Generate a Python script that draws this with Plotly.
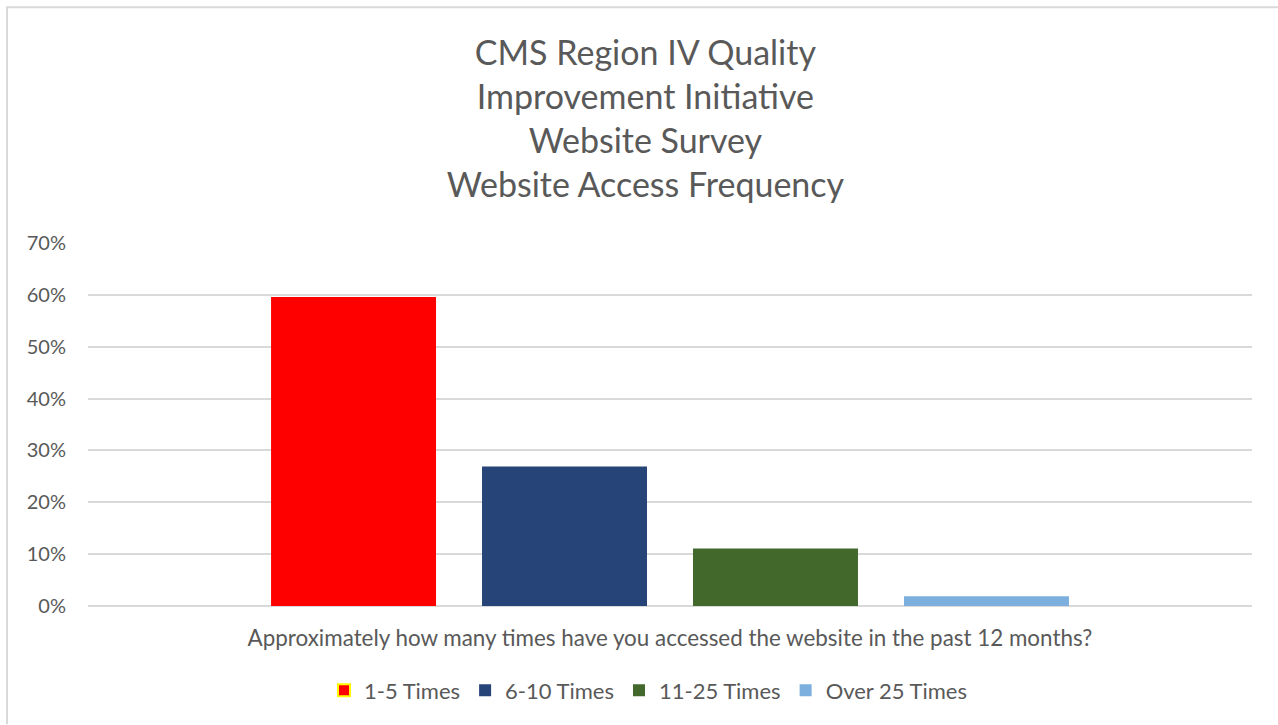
import plotly.graph_objects as go

categories = [""]
series_names = ["1-5 Times", "6-10 Times", "11-25 Times", "Over 25 Times"]
series_values = [0.596, 0.269, 0.111, 0.019]
series_colors = ["#FF0000", "#264478", "#43682B", "#7CAFDD"]
legend_line_colors = ["#FFFF00", None, None, None]

title_lines = ["CMS Region IV Quality", "Improvement Initiative", "Website Survey", "Website Access Frequency"]
x_title = "Approximately how many times have you accessed the website in the past 12 months?"
y_ticks = [0, 0.1, 0.2, 0.3, 0.4, 0.5, 0.6, 0.7]

FONT = "Lato, 'Open Sans', sans-serif"
GREY = "#595959"

fig = go.Figure()
for name, val, col in zip(series_names, series_values, series_colors):
    fig.add_trace(go.Bar(x=categories, y=[val], name=name, marker_color=col,
                         marker_line_width=0, showlegend=False, hoverinfo="y+name"))

# legend entries (square markers)
for name, col, lc in zip(series_names, series_colors, legend_line_colors):
    fig.add_trace(go.Scatter(x=[None], y=[None], mode="markers", name=name,
                             marker=dict(symbol="square", size=11, color=col,
                                         line=dict(color=lc if lc else col, width=2 if lc else 0))))

W, H = 1278, 725
ml, mr, mt, mb = 88, 26, 243, 118.5
pw = W - ml - mr
ph = H - mt - mb

fig.update_layout(
    width=W, height=H,
    margin=dict(l=ml, r=mr, t=mt, b=mb, autoexpand=False),
    paper_bgcolor="white", plot_bgcolor="white",
    font=dict(family=FONT, color=GREY, size=22),
    title=dict(text="<br>".join(title_lines), x=0.505, xanchor="center",
               y=1 - 64.5 / H, yanchor="middle",
               font=dict(size=34, color=GREY, family=FONT)),
    barmode="group", bargap=0.275, bargroupgap=0.218,
    xaxis=dict(showticklabels=False, showgrid=False, zeroline=False, showline=False,
               title=dict(text=x_title, standoff=24, font=dict(size=22.4, color=GREY))),
    yaxis=dict(range=[0, 0.7], tickvals=y_ticks, tickformat=".0%",
               gridcolor="#D9D9D9", gridwidth=1.5, zeroline=True, zerolinecolor="#D9D9D9",
               zerolinewidth=1.5, showline=False, ticks="", ticklabelstandoff=21,
               tickfont=dict(size=20, color=GREY)),
    legend=dict(orientation="h", x=0.5 - 22 / pw, xanchor="center", y=(606.5 - 691) / ph,
                yanchor="middle", font=dict(size=22, color=GREY), itemwidth=30,
                tracegroupgap=0, itemsizing="constant"),
    showlegend=True,
)

# chart border (top and left edges visible)
fig.add_shape(type="line", xref="paper", yref="paper",
              x0=(6 - ml) / pw, x1=(1278 - ml) / pw,
              y0=(H - mb - 7) / ph, y1=(H - mb - 7) / ph,
              line=dict(color="#D9D9D9", width=2), layer="below")
fig.add_shape(type="line", xref="paper", yref="paper",
              x0=(7 - ml) / pw, x1=(7 - ml) / pw,
              y0=(H - mb - 7) / ph, y1=(H - mb - 725) / ph,
              line=dict(color="#D9D9D9", width=2), layer="below")

fig.write_html("out.html", config={"displayModeBar": False},
               post_script="document.body.style.margin='0';document.body.style.overflow='hidden';")
